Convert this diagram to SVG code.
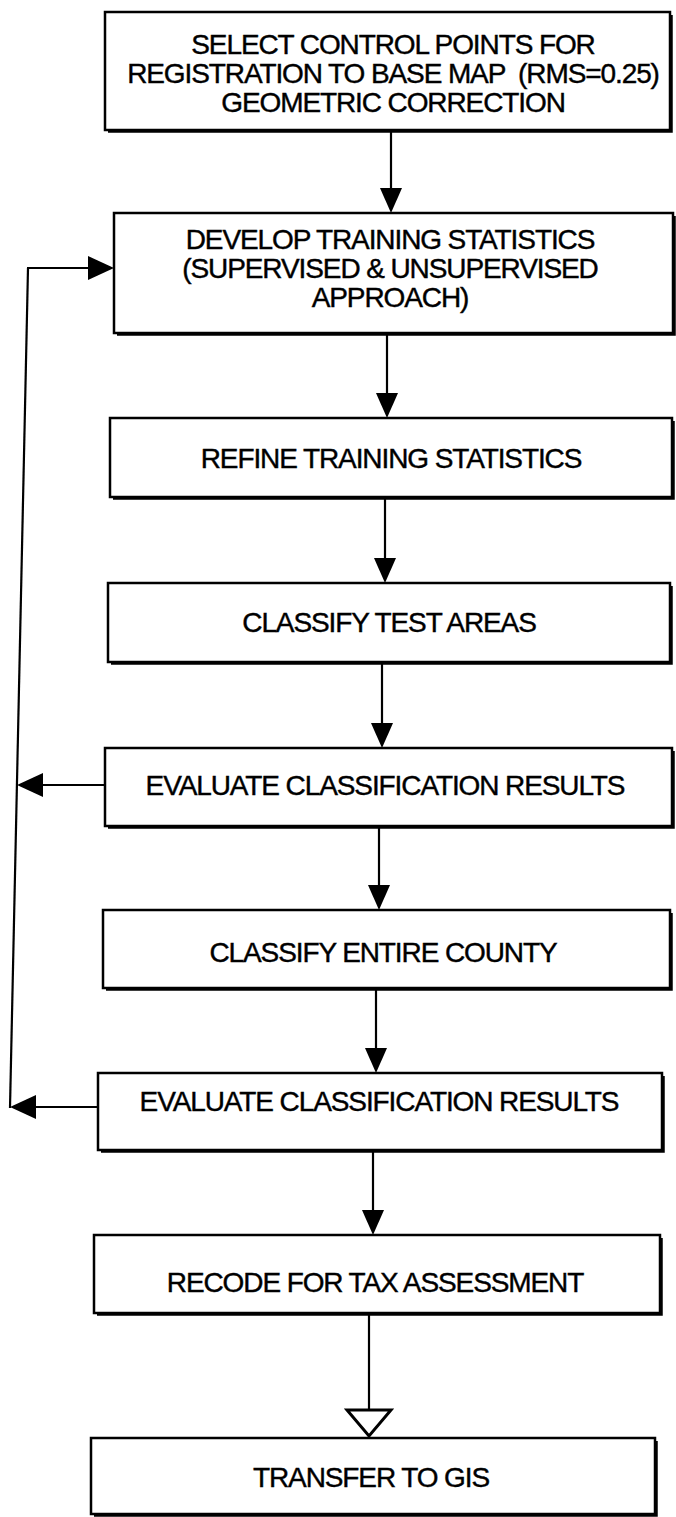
<svg xmlns="http://www.w3.org/2000/svg" width="676" height="1517" viewBox="0 0 676 1517">
  <style>
    .box { fill: #ffffff; stroke: #000000; stroke-width: 2.5; }
    .shade { fill: none; stroke: #000000; stroke-width: 2.5; }
    .lbl { font-family: "Liberation Sans", Arial, Helvetica, sans-serif; font-size: 28px; letter-spacing: -1.1px; fill: #000000; text-anchor: middle; stroke: #000000; stroke-width: 0.4; }
    .wire { fill: none; stroke: #000000; stroke-width: 2.2; }
    .head { fill: #000000; stroke: none; }
    .hollow { fill: #ffffff; stroke: #000000; stroke-width: 3; stroke-linejoin: miter; }
  </style>
  <rect width="676" height="1517" fill="#ffffff"/>

  <!-- connectors -->
  <g id="connectors">
    <!-- main downward chain -->
    <line class="wire" x1="391" y1="130" x2="391" y2="195"/>
    <polygon class="head" points="380,188 402,188 391,213"/>

    <line class="wire" x1="387" y1="333" x2="387" y2="400"/>
    <polygon class="head" points="376,393 398,393 387,418"/>

    <line class="wire" x1="385" y1="497" x2="385" y2="565"/>
    <polygon class="head" points="374,558 396,558 385,583"/>

    <line class="wire" x1="382" y1="662" x2="382" y2="730"/>
    <polygon class="head" points="371,723 393,723 382,748"/>

    <line class="wire" x1="379" y1="826" x2="379" y2="892"/>
    <polygon class="head" points="368,885 390,885 379,910"/>

    <line class="wire" x1="376" y1="988" x2="376" y2="1055"/>
    <polygon class="head" points="365,1048 387,1048 376,1073"/>

    <line class="wire" x1="373" y1="1150" x2="373" y2="1217"/>
    <polygon class="head" points="362,1210 384,1210 373,1235"/>

    <!-- hand-off to GIS with open head -->
    <line class="wire" x1="369" y1="1313" x2="369" y2="1409"/>
    <polygon class="hollow" points="347,1410 391,1410 369,1436"/>

    <!-- feedback loop on the left -->
    <line class="wire" x1="28" y1="268" x2="10" y2="1108"/>
    <line class="wire" x1="27" y1="268" x2="92" y2="268"/>
    <polygon class="head" points="88,256 88,280 114,268"/>

    <line class="wire" x1="105" y1="785" x2="38" y2="785"/>
    <polygon class="head" points="43,773 43,797 17,785"/>

    <line class="wire" x1="98" y1="1107" x2="32" y2="1107"/>
    <polygon class="head" points="36,1095 36,1119 10,1107"/>
  </g>

  <g id="n1">
    <rect class="box" x="105" y="12" width="565" height="118"/>
    <polyline class="shade" points="671.5,15 671.5,131.5 108,131.5"/>
    <text class="lbl" x="393" y="54">SELECT CONTROL POINTS FOR</text>
    <text class="lbl" x="393" y="83" xml:space="preserve">REGISTRATION TO BASE MAP  (RMS=0.25)</text>
    <text class="lbl" x="393" y="112">GEOMETRIC CORRECTION</text>
  </g>

  <g id="n2">
    <rect class="box" x="114" y="213" width="559" height="120"/>
    <polyline class="shade" points="674.5,216 674.5,334.5 117,334.5"/>
    <text class="lbl" x="390" y="249">DEVELOP TRAINING STATISTICS</text>
    <text class="lbl" x="390" y="278">(SUPERVISED &amp; UNSUPERVISED</text>
    <text class="lbl" x="390" y="307">APPROACH)</text>
  </g>

  <g id="n3">
    <rect class="box" x="110" y="418" width="562" height="79"/>
    <polyline class="shade" points="673.5,421 673.5,498.5 113,498.5"/>
    <text class="lbl" x="391" y="468">REFINE TRAINING STATISTICS</text>
  </g>

  <g id="n4">
    <rect class="box" x="108" y="583" width="562" height="79"/>
    <polyline class="shade" points="671.5,586 671.5,663.5 111,663.5"/>
    <text class="lbl" x="389" y="632">CLASSIFY TEST AREAS</text>
  </g>

  <g id="n5">
    <rect class="box" x="105" y="748" width="567" height="78"/>
    <polyline class="shade" points="673.5,751 673.5,827.5 108,827.5"/>
    <text class="lbl" x="385" y="795">EVALUATE CLASSIFICATION RESULTS</text>
  </g>

  <g id="n6">
    <rect class="box" x="103" y="910" width="567" height="78"/>
    <polyline class="shade" points="671.5,913 671.5,989.5 106,989.5"/>
    <text class="lbl" x="383" y="962">CLASSIFY ENTIRE COUNTY</text>
  </g>

  <g id="n7">
    <rect class="box" x="98" y="1073" width="564" height="77"/>
    <polyline class="shade" points="663.5,1076 663.5,1151.5 101,1151.5"/>
    <text class="lbl" x="379" y="1111">EVALUATE CLASSIFICATION RESULTS</text>
  </g>

  <g id="n8">
    <rect class="box" x="94" y="1235" width="566" height="78"/>
    <polyline class="shade" points="661.5,1238 661.5,1314.5 97,1314.5"/>
    <text class="lbl" x="375" y="1292">RECODE FOR TAX ASSESSMENT</text>
  </g>

  <g id="n9">
    <rect class="box" x="91" y="1438" width="564" height="76"/>
    <polyline class="shade" points="656.5,1441 656.5,1515.5 94,1515.5"/>
    <text class="lbl" x="371" y="1487">TRANSFER TO GIS</text>
  </g>
</svg>
